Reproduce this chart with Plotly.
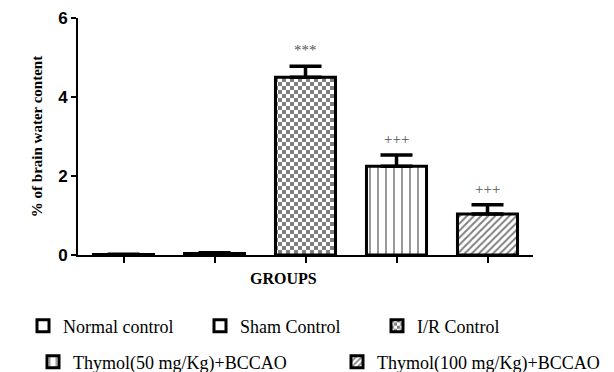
import plotly.graph_objects as go

# Brain water content per treatment group (mean, SEM)
groups = ["Normal control", "Sham Control", "I/R Control",
          "Thymol(50 mg/Kg)+BCCAO", "Thymol(100 mg/Kg)+BCCAO"]
water_mean = [0.01, 0.04, 4.50, 2.25, 1.04]
water_sem = [0.01, 0.02, 0.28, 0.28, 0.23]
significance = ["", "", "***", "+++", "+++"]

serif = "Liberation Serif"
sans = "Liberation Sans"

# plot area in pixels
L, R, T, B, W, H = 78, 81, 18, 117, 614, 372
pw, ph = W - L - R, H - T - B

# fill pattern per group
patterns = [
    dict(shape=""),
    dict(shape=""),
    dict(path="M0,0H4V4H0ZM4,4H8V8H4Z", size=8, solidity=0.5,
         fgcolor="black", bgcolor="white"),
    dict(shape="|", size=8, solidity=0.2, fgcolor="black", bgcolor="white"),
    dict(shape="/", size=5, solidity=0.4, fgcolor="black", bgcolor="white"),
]

# one legend per group, two rows below the chart (text start x, row centre y)
legend_names = ["legend", "legend2", "legend3", "legend4", "legend5"]
legend_spots = [(63, 326), (240, 326), (417, 326), (73, 362), (377, 362)]

fig = go.Figure()
for g, m, s, p, lg in zip(groups, water_mean, water_sem, patterns, legend_names):
    fig.add_trace(go.Bar(
        x=[g], y=[m], name=g, legend=lg, width=0.66,
        marker=dict(color="white", line=dict(color="black", width=3), pattern=p),
        error_y=dict(type="data", symmetric=False, array=[s], arrayminus=[0],
                     color="black", thickness=3.5, width=16),
    ))

for g, m, s, t in zip(groups, water_mean, water_sem, significance):
    if t:
        fig.add_annotation(x=g, y=m + s, text=t, showarrow=False, yanchor="bottom",
                           yshift=6, font=dict(family=serif, size=15, color="#555"))

# x-axis caption
fig.add_annotation(xref="paper", yref="paper", x=(283 - L) / pw, y=-(278 - (H - B)) / ph,
                   xanchor="center", yanchor="middle",
                   text="<b>GROUPS</b>", showarrow=False,
                   font=dict(family=serif, size=16, color="black"))

legend_layout = {}
for lg, (tx, ty) in zip(legend_names, legend_spots):
    legend_layout[lg] = dict(
        orientation="h", xanchor="left", yanchor="middle",
        x=(tx - 40 - L) / pw, y=((H - B) - ty) / ph,
        font=dict(family=serif, size=18, color="black"),
        bgcolor="rgba(0,0,0,0)", itemclick=False, itemdoubleclick=False,
    )

fig.update_layout(
    width=W, height=H,
    margin=dict(l=L, r=R, t=T, b=B, autoexpand=False),
    plot_bgcolor="white", paper_bgcolor="white",
    showlegend=True,
    **legend_layout,
)

fig.update_xaxes(
    type="category", range=[-0.5, 4.5], showticklabels=False,
    showline=True, linecolor="black", linewidth=2,
    ticks="outside", ticklen=6, tickwidth=2, tickcolor="black",
    showgrid=False, zeroline=False,
)
fig.update_yaxes(
    range=[0, 6], tickvals=[0, 2, 4, 6],
    showline=True, linecolor="black", linewidth=2,
    ticks="outside", ticklen=5, tickwidth=2, tickcolor="black",
    tickfont=dict(family=sans, size=17, color="black", weight="bold"),
    showgrid=False, zeroline=False,
    title=dict(text="<b>% of brain water content</b>", standoff=12,
               font=dict(family=serif, size=15, color="black")),
)

fig.write_html("out.html")
